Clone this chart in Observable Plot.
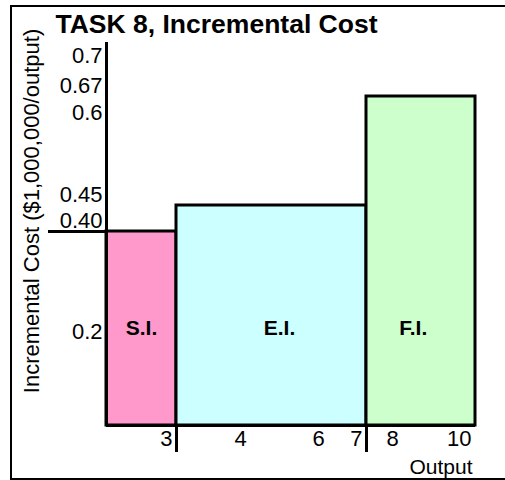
<!DOCTYPE html>
<html><head><meta charset="utf-8">
<script src="https://cdn.jsdelivr.net/npm/d3@7"></script>
<script src="https://cdn.jsdelivr.net/npm/@observablehq/plot@0.6"></script>
<style>
html,body{margin:0;padding:0;background:#fff;overflow:hidden;}
#wrap{position:relative;width:505px;height:480px;}
#chart{position:absolute;left:0;top:0;}
#border{position:absolute;left:10px;top:5px;width:520px;height:475px;border:2px solid #000;box-sizing:border-box;pointer-events:none;}
</style></head>
<body><div id="wrap"><div id="chart"></div><div id="border"></div></div>
<script>
const title = "TASK 8, Incremental Cost";
const yLabel = "Incremental Cost ($1,000,000/output)";
const xLabel = "Output";
const segments = ["S.I.", "E.I.", "F.I."];
const outputStart = [0, 3, 7];
const outputEnd = [3, 7, 10];
const incrementalCost = [0.40, 0.45, 0.67];
const segmentColors = ["#ff99cc", "#ccffff", "#ccffcc"];
const yTicks = [0.2, 0.40, 0.45, 0.6, 0.67, 0.7];
const yTickLabels = ["0.2", "0.40", "0.45", "0.6", "0.67", "0.7"];
const xTicksEdge = [3, 7, 10];
const xTicksMid = [4, 6, 8];
const yAxisTop = 0.75;
const barLabelLevel = 0.2;

const bars = segments.map((s, i) => ({
  segment: s, x1: outputStart[i], x2: outputEnd[i],
  cost: incrementalCost[i], color: segmentColors[i],
  mid: (outputStart[i] + outputEnd[i]) / 2
}));
const font = "'Liberation Sans', Arial, Helvetica, sans-serif";

// The reference axes are schematic (not evenly spaced): piecewise-linear warps
const xWarp = d3.scaleLinear().domain([0, 3, 4, 6, 7, 8, 10]).range([0, 70, 134, 212, 260, 286, 369]);
const yWarp = d3.scaleLinear().domain([0, 0.2, 0.40, 0.45, 0.6, 0.67, 0.7, 0.75]).range([0, 97, 194, 220, 302, 329, 359, 383]);

// axis marks take ticks in the warped space; map them back to their labels
const yLabelOf = new Map(yTicks.map((d, i) => [yWarp(d), yTickLabels[i]]));
const xLabelOf = new Map([...xTicksEdge, ...xTicksMid].map(d => [xWarp(d), String(d)]));

const chart = Plot.plot({
  width: 505, height: 480,
  marginLeft: 106, marginRight: 30, marginTop: 42, marginBottom: 55,
  style: {fontFamily: font, fontSize: "20px", color: "#000", background: "transparent"},
  x: {type: "linear", transform: xWarp, domain: [0, 369], range: [106, 475], label: null},
  y: {type: "linear", transform: yWarp, domain: [0, 383], range: [425, 42], label: null, axis: null},
  color: {type: "identity"},
  marks: [
    Plot.rect(bars, {x1: "x1", x2: "x2", y1: () => 0, y2: "cost", fill: "color", stroke: "#000", strokeWidth: 3}),
    Plot.ruleX([0], {y1: () => 0, y2: () => yAxisTop, stroke: "#000", strokeWidth: 3}),
    Plot.ruleY([0], {x1: () => 0, x2: () => 10, stroke: "#000", strokeWidth: 3}),
    // extension of the 0.40 level to the left
    Plot.axisY({ticks: [yWarp(0.40)], tickSize: 58, tickFormat: () => "", strokeWidth: 3, stroke: "#000", label: null}),
    // y tick labels
    Plot.axisY({ticks: yTicks.filter(d => d !== 0.2).map(yWarp), tickSize: 0, tickPadding: 4, tickFormat: d => yLabelOf.get(d), dy: -11, fontSize: 22, fill: "#000", label: null}),
    Plot.axisY({ticks: [yWarp(0.2)], tickSize: 0, tickPadding: 4, tickFormat: d => yLabelOf.get(d), dy: 3, fontSize: 22, fill: "#000", label: null}),
    // x tick marks below the axis at the segment boundaries
    Plot.axisX({ticks: [3, 7].map(xWarp), tickSize: 27, tickFormat: () => "", strokeWidth: 3, stroke: "#000", label: null}),
    Plot.axisX({ticks: xTicksEdge.map(xWarp), tickSize: 0, tickPadding: 5, tickFormat: d => xLabelOf.get(d), textAnchor: "end", dx: -4, fontSize: 22, fill: "#000", label: null}),
    Plot.axisX({ticks: xTicksMid.map(xWarp), tickSize: 0, tickPadding: 5, tickFormat: d => xLabelOf.get(d), fontSize: 22, fill: "#000", label: null}),
    Plot.text(bars, {x: "mid", y: () => barLabelLevel, text: "segment", fontWeight: "bold", fontSize: 21, fill: "#000"}),
    Plot.text([title], {frameAnchor: "top-left", textAnchor: "start", lineAnchor: "middle", dx: -51, dy: -18, fontWeight: "bold", fontSize: 26.5, fill: "#000"}),
    Plot.text([yLabel], {frameAnchor: "left", rotate: -90, lineAnchor: "middle", textAnchor: "middle", dx: -75, dy: -23, fontSize: 22, fill: "#000"}),
    Plot.text([xLabel], {frameAnchor: "bottom-right", textAnchor: "end", lineAnchor: "middle", dx: -3, dy: 42, fontSize: 21, fill: "#000"})
  ]
});
document.getElementById("chart").appendChild(chart);
</script>
</body></html>
